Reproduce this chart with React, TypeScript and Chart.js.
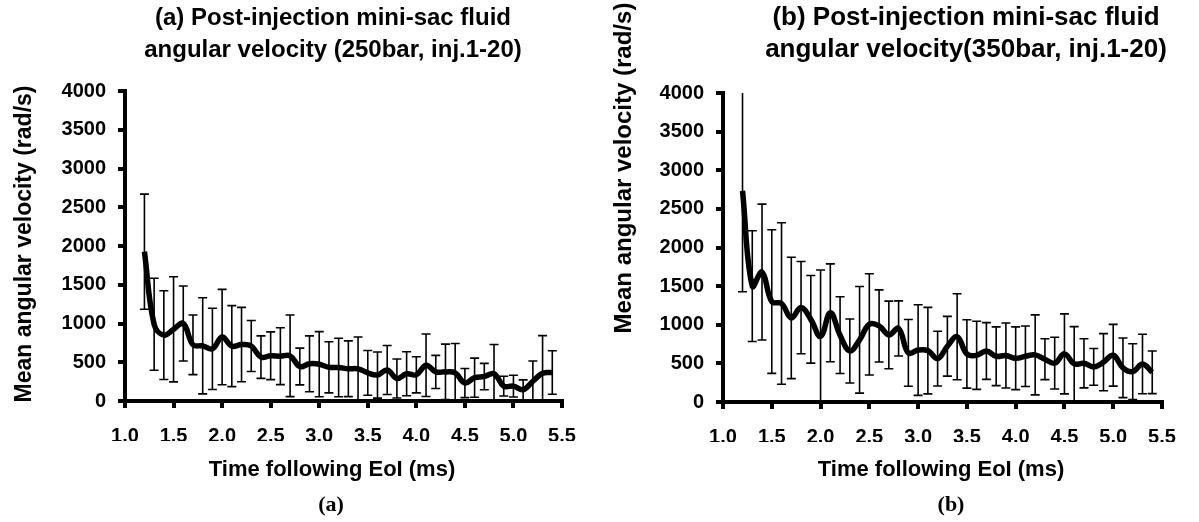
import React, { useEffect, useRef } from 'react';
import { Chart, registerables } from 'chart.js';

Chart.register(...registerables);

// ---- data ----
const times = [1.2, 1.3, 1.4, 1.5, 1.6, 1.7, 1.8, 1.9, 2.0, 2.1, 2.2, 2.3, 2.4, 2.5, 2.6, 2.7, 2.8, 2.9, 3.0, 3.1, 3.2, 3.3, 3.4, 3.5, 3.6, 3.7, 3.8, 3.9, 4.0, 4.1, 4.2, 4.3, 4.4, 4.5, 4.6, 4.7, 4.8, 4.9, 5.0, 5.1, 5.2, 5.3, 5.4];

const meanA = [1927, 990, 850, 925, 1000, 725, 712, 673, 825, 708, 728, 710, 566, 584, 578, 583, 445, 480, 475, 435, 432, 416, 415, 363, 335, 400, 290, 352, 338, 462, 375, 376, 362, 232, 301, 316, 352, 192, 192, 145, 255, 357, 368];
const sdA = [743, 594, 572, 678, 484, 385, 620, 524, 615, 523, 480, 329, 274, 308, 367, 527, 237, 360, 420, 330, 378, 360, 410, 288, 298, 317, 252, 284, 233, 403, 214, 358, 380, 188, 252, 170, 378, 128, 140, 128, 262, 486, 280];

const meanB = [2733, 1500, 1682, 1300, 1275, 1088, 1222, 1070, 848, 1155, 865, 660, 805, 1005, 985, 868, 952, 635, 672, 665, 562, 722, 845, 622, 604, 660, 592, 602, 566, 592, 610, 554, 503, 623, 494, 501, 454, 515, 605, 442, 393, 492, 385];
const sdB = [1306, 716, 880, 930, 1045, 785, 597, 567, 860, 633, 497, 415, 690, 655, 467, 438, 357, 432, 586, 560, 354, 387, 557, 443, 441, 367, 380, 421, 406, 392, 518, 265, 335, 518, 482, 318, 238, 370, 400, 386, 362, 385, 276];

const xTicks = [1.0, 1.5, 2.0, 2.5, 3.0, 3.5, 4.0, 4.5, 5.0, 5.5];
const yTicks = [0, 500, 1000, 1500, 2000, 2500, 3000, 3500, 4000];

const titleA = ['(a) Post-injection mini-sac fluid', 'angular velocity (250bar, inj.1-20)'];
const titleB = ['(b) Post-injection mini-sac fluid', 'angular velocity(350bar, inj.1-20)'];
const yTitle = 'Mean angular velocity (rad/s)';
const xTitle = 'Time following EoI (ms)';

const SANS = '"Liberation Sans", Arial, sans-serif';
const SERIF = '"Liberation Serif", "Times New Roman", serif';

type PanelProps = {
  left: number;
  width: number;
  mean: number[];
  sd: number[];
  title: string[];
  caption: string;
  pad: { top: number; left: number; right: number; bottom: number };
  titleX: number;
  titleSize: number;
  xTitleX: number;
  yTitleX: number;
  yTitleY: number;
  yTitleSize: number;
  captionX: number;
};

function Panel(p: PanelProps) {
  const ref = useRef<HTMLCanvasElement | null>(null);

  useEffect(() => {
    if (!ref.current) return;

    const errorBars = {
      id: 'errorBars',
      beforeDatasetsDraw(chart: any) {
        const { ctx, scales } = chart;
        const xs = scales.x;
        const ys = scales.y;
        const yMax = ys.max;
        const yMin = ys.min;
        ctx.save();
        ctx.strokeStyle = '#000';
        ctx.lineWidth = 1.6;
        const cap = 4.5;
        times.forEach((t, i) => {
          const hi = p.mean[i] + p.sd[i];
          const lo = p.mean[i] - p.sd[i];
          const x = xs.getPixelForValue(t);
          const yHi = ys.getPixelForValue(Math.min(hi, yMax));
          const yLo = ys.getPixelForValue(Math.max(lo, yMin));
          ctx.beginPath();
          ctx.moveTo(x, yHi);
          ctx.lineTo(x, yLo);
          if (hi <= yMax) {
            ctx.moveTo(x - cap, yHi);
            ctx.lineTo(x + cap, yHi);
          }
          if (lo >= yMin) {
            ctx.moveTo(x - cap, yLo);
            ctx.lineTo(x + cap, yLo);
          }
          ctx.stroke();
        });
        ctx.restore();
      },
    };

    const panelText = {
      id: 'panelText',
      afterDraw(chart: any) {
        const ctx = chart.ctx;
        ctx.save();
        ctx.fillStyle = '#000';
        ctx.textAlign = 'center';
        ctx.textBaseline = 'middle';
        ctx.font = `bold ${p.titleSize}px ${SANS}`;
        p.title.forEach((line, i) => ctx.fillText(line, p.titleX, 18 + i * 32));
        ctx.font = `bold 22px ${SANS}`;
        ctx.fillText(xTitle, p.xTitleX, 470);
        ctx.save();
        ctx.translate(p.yTitleX, p.yTitleY);
        ctx.rotate(-Math.PI / 2);
        ctx.font = `bold ${p.yTitleSize}px ${SANS}`;
        ctx.fillText(yTitle, 0, 0);
        ctx.restore();
        ctx.font = `bold 22px ${SERIF}`;
        ctx.fillText(p.caption, p.captionX, 505);
        ctx.restore();
      },
    };

    const tickFont = { family: SANS, size: 20, weight: 'bold' as const };

    const chart = new Chart(ref.current, {
      type: 'line',
      data: {
        datasets: [
          {
            data: times.map((t, i) => ({ x: t, y: p.mean[i] })),
            borderColor: '#000',
            borderWidth: 5.5,
            pointRadius: 0,
            tension: 0.4,
            fill: false,
          },
        ],
      },
      options: {
        responsive: false,
        animation: false,
        layout: { padding: p.pad },
        plugins: {
          legend: { display: false },
          tooltip: { enabled: false },
          title: { display: false },
        },
        scales: {
          x: {
            type: 'linear',
            min: 1,
            max: 5.5,
            afterBuildTicks: (s: any) => {
              s.ticks = xTicks.map((v) => ({ value: v }));
            },
            afterFit: (s: any) => {
              s.height = 40;
            },
            ticks: {
              callback: (v: any) => Number(v).toFixed(1),
              color: '#000',
              font: tickFont,
              padding: 16,
              autoSkip: false,
              maxRotation: 0,
            },
            grid: {
              drawOnChartArea: false,
              color: '#000',
              tickColor: '#000',
              tickLength: 7,
              lineWidth: 4,
              tickWidth: 4,
            },
            border: { display: true, color: '#000', width: 4 },
          },
          y: {
            min: 0,
            max: 4000,
            afterBuildTicks: (s: any) => {
              s.ticks = yTicks.map((v) => ({ value: v }));
            },
            afterFit: (s: any) => {
              s.width = 90;
            },
            ticks: {
              callback: (v: any) => String(v),
              color: '#000',
              font: tickFont,
              padding: 12,
              autoSkip: false,
            },
            grid: {
              drawOnChartArea: false,
              color: '#000',
              tickColor: '#000',
              tickLength: 7,
              lineWidth: 4,
              tickWidth: 4,
            },
            border: { display: true, color: '#000', width: 4 },
          },
        },
      },
      plugins: [errorBars, panelText],
    });

    return () => chart.destroy();
  }, []);

  return (
    <canvas
      ref={ref}
      width={p.width}
      height={522}
      style={{ position: 'absolute', left: p.left, top: 0, width: p.width, height: 522 }}
    />
  );
}

export default function App() {
  return (
    <div style={{ position: 'fixed', left: 0, top: 0, width: 1199, height: 522, background: '#fff' }}>
      <Panel
        left={0}
        width={600}
        mean={meanA}
        sd={sdA}
        title={titleA}
        caption="(a)"
        pad={{ top: 91, left: 35, right: 38, bottom: 81 }}
        titleX={333}
        titleSize={24}
        xTitleX={332}
        yTitleX={25}
        yTitleY={244}
        yTitleSize={23}
        captionX={331}
      />
      <Panel
        left={600}
        width={599}
        mean={meanB}
        sd={sdB}
        title={titleB}
        caption="(b)"
        pad={{ top: 93, left: 33, right: 37, bottom: 80 }}
        titleX={366}
        titleSize={26}
        xTitleX={341}
        yTitleX={24}
        yTitleY={168}
        yTitleSize={24}
        captionX={351}
      />
    </div>
  );
}
